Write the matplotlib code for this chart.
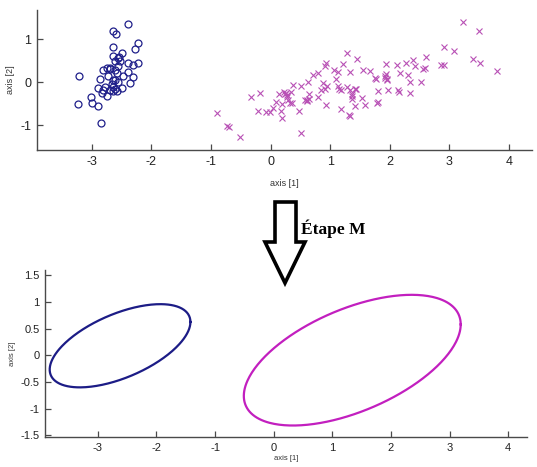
import numpy as np
import matplotlib
matplotlib.use("Agg")
import matplotlib.pyplot as plt
from matplotlib.patches import Polygon

plt.rcParams['font.family'] = ['Liberation Sans', 'DejaVu Sans']
plt.rcParams['axes.unicode_minus'] = False

# ---- data: cluster 1 (circles) ----
blue_x = [-2.39, -2.64, -2.59, -2.64, -2.23, -2.27, -2.50, -2.64, -2.56, -2.53, -2.61, -2.39,
          -2.22, -2.30, -2.56, -2.81, -2.75, -2.69, -2.61, -2.39, -2.58, -2.72, -2.47, -2.31,
          -3.21, -2.87, -2.61, -2.36, -2.89, -2.81, -2.69, -2.61, -2.50, -2.83, -2.75, -2.65,
          -2.58, -3.02, -2.99, -3.23, -2.89, -2.85, -2.64, -2.56, -2.66, -2.64, -2.70, -2.55, -2.78]
blue_y = [1.36, 1.20, 1.12, 0.83, 0.92, 0.77, 0.68, 0.62, 0.56, 0.49, 0.49, 0.45,
          0.46, 0.41, 0.37, 0.29, 0.33, 0.33, 0.29, 0.25, 0.22, 0.14, 0.14, 0.12,
          0.15, 0.08, 0.05, -0.01, -0.13, -0.17, -0.17, -0.15, -0.13, -0.25, -0.32, -0.21,
          -0.21, -0.34, -0.48, -0.50, -0.55, -0.94, 0.06, 0.00, -0.04, -0.10, 0.30, 0.60, -0.10]

# ---- data: cluster 2 (crosses) ----
mag_x = [-0.89, -0.73, -0.69, -0.51, -0.32, -0.17, -0.21, -0.07, -0.01, 0.05, 0.17, 0.19, 0.14,
         0.24, 0.28, 0.26, 0.34, 0.37, 0.51, 0.33, 0.36, 0.48, 0.52, 0.62, 0.63,
         1.29, 1.46, 1.22, 0.93, 0.91, 0.72, 0.80, 1.07, 1.13, 1.33, 1.56, 1.67, 1.94, 2.12,
         2.18, 1.77, 1.94, 1.95, 1.97, 2.14, 2.16, 0.88, 0.95, 0.91, 1.14, 1.19, 1.28, 1.33,
         1.42, 1.36, 1.36, 1.53, 1.81, 1.80, 1.58, 1.42, 1.19, 1.32, 1.34, 0.94, 0.80, 0.65, 0.62,
         3.24, 3.50, 2.92, 3.08, 3.40, 3.51, 3.81, 2.61, 2.86, 2.92, 2.39, 2.56, 2.60, 2.42,
         2.27, 2.31, 2.34, 2.53, 2.34, 1.92, 1.76, 1.10, 0.30, 0.58, 1.44, 1.37, 0.84, 0.22,
         0.28, 1.15, 1.78, 0.64, 1.92, 1.96, 0.20, 0.10]
mag_y = [-0.72, -1.02, -1.03, -1.27, -0.35, -0.25, -0.67, -0.69, -0.69, -0.59, -0.67, -0.82, -0.28,
         -0.28, -0.34, -0.25, -0.23, -0.06, -0.08, -0.49, -0.48, -0.67, -1.18, -0.40, 0.02,
         0.69, 0.54, 0.43, 0.46, 0.37, 0.18, 0.22, 0.28, 0.23, 0.25, 0.29, 0.27, 0.43, 0.41,
         0.22, 0.08, 0.19, 0.06, -0.17, -0.18, -0.22, -0.02, -0.09, -0.16, -0.08, -0.17, -0.11, -0.17,
         -0.15, -0.28, -0.38, -0.36, -0.21, -0.46, -0.53, -0.55, -0.61, -0.75, -0.78, -0.53, -0.34, -0.38, -0.43,
         1.41, 1.19, 0.82, 0.72, 0.55, 0.46, 0.27, 0.60, 0.41, 0.40, 0.51, 0.31, 0.33, 0.39,
         0.46, 0.18, 0.00, 0.02, -0.25, 0.10, 0.09, 0.08, -0.40, -0.40, -0.15, -0.32, -0.17, -0.22,
         -0.30, -0.15, -0.48, -0.28, 0.14, 0.08, -0.50, -0.45]

# ---- Gaussian components (M step): centre and covariance ----
comp_cx = [-2.62, 1.34]
comp_cy = [0.18, -0.09]
comp_sxx = [1.44, 3.42]
comp_syy = [0.608, 1.50]
comp_sxy = [0.535, 1.24]
comp_colors = ['#1c1c86', '#c21fbf']

x_ticks = [-3, -2, -1, 0, 1, 2, 3, 4]
top_y_ticks = [-1, 0, 1]
bot_y_ticks = [-1.5, -1, -0.5, 0, 0.5, 1, 1.5]
bot_y_labels = ['-1.5', '-1', '-0.5', '0', '0.5', '1', '1.5']

W, H = 537, 467
fig = plt.figure(figsize=(W / 100, H / 100), dpi=100)


def px_axes(l, t, r, b):
    return fig.add_axes([l / W, 1 - b / H, (r - l) / W, (b - t) / H])


def style(ax, fs):
    for s in ['top', 'right']:
        ax.spines[s].set_visible(False)
    for s in ['left', 'bottom']:
        ax.spines[s].set_color('#4a4a4a')
        ax.spines[s].set_linewidth(1.0)
    ax.tick_params(direction='in', length=4, width=0.9, colors='#4a4a4a',
                   labelcolor='#222222', labelsize=fs, pad=4)


# top scatter
ax1 = px_axes(37, 10, 532, 150)
ax1.plot(blue_x, blue_y, linestyle='none', marker='o', markersize=5.0,
         markerfacecolor='none', markeredgecolor='#1f1f8a', markeredgewidth=0.9)
ax1.plot(mag_x, mag_y, linestyle='none', marker='x', markersize=4.0,
         color='#b850b5', markeredgewidth=0.8)
ax1.set_xlim(-3.92, 4.39)
ax1.set_ylim(-1.57, 1.68)
ax1.set_xticks(x_ticks)
ax1.set_yticks(top_y_ticks)
style(ax1, 9)
ax1.set_xlabel('axis [1]', fontsize=6.5, color='#333333', labelpad=8)
ax1.set_ylabel('axis [2]', fontsize=6.5, color='#333333', labelpad=4)

# bottom ellipses
ax2 = px_axes(45, 270, 527, 437)
t = np.linspace(0, 2 * np.pi, 300)
for cx, cy, sxx, syy, sxy, c in zip(comp_cx, comp_cy, comp_sxx, comp_syy, comp_sxy, comp_colors):
    L = np.linalg.cholesky(np.array([[sxx, sxy], [sxy, syy]]))
    pts = L @ np.vstack([np.cos(t), np.sin(t)])
    ax2.plot(cx + pts[0], cy + pts[1], color=c, linewidth=1.6)
ax2.set_xlim(-3.9, 4.32)
ax2.set_ylim(-1.53, 1.60)
ax2.set_xticks(x_ticks)
ax2.set_yticks(bot_y_ticks)
ax2.set_yticklabels(bot_y_labels)
style(ax2, 8)
ax2.set_xlabel('axis [1]', fontsize=5.5, color='#333333', labelpad=2)
ax2.set_ylabel('axis [2]', fontsize=5.5, color='#333333', labelpad=3)

# hollow down arrow between panels
arrow_px = [(275, 202), (296, 202), (296, 242), (305, 242), (285, 283),
            (265, 242), (275, 242)]
arrow = Polygon([(x / W, 1 - y / H) for x, y in arrow_px], closed=True,
                transform=fig.transFigure, facecolor='white', edgecolor='black',
                linewidth=2.6, joinstyle='miter')
fig.patches.append(arrow)
fig.text(301 / W, 1 - 229 / H, 'Étape M', fontsize=12.5, fontweight='bold',
         family=['Liberation Serif', 'DejaVu Serif'], va='center', ha='left')

fig.savefig('out.png', dpi=100, facecolor='white')
